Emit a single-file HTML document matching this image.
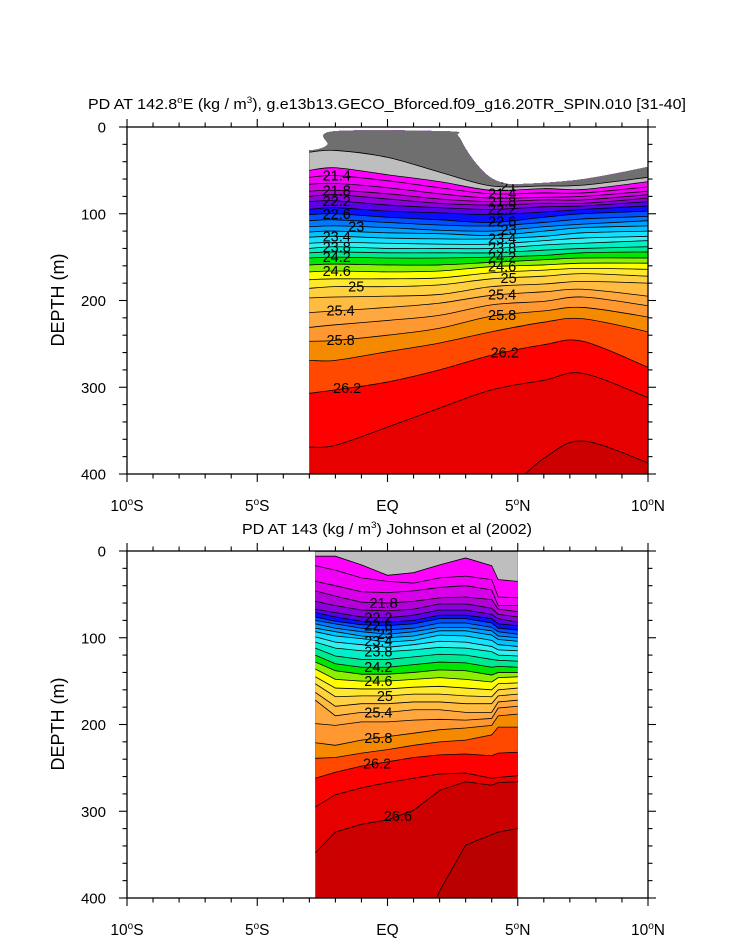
<!DOCTYPE html>
<html><head><meta charset="utf-8"><style>
html,body{margin:0;padding:0;background:#fff;}
svg{display:block;font-family:"Liberation Sans",sans-serif;}
</style></head><body>
<svg id="chart" width="733" height="945" viewBox="0 0 733 945" xmlns="http://www.w3.org/2000/svg">
<rect width="733" height="945" fill="#fff"/>
<text x="387" y="109" text-anchor="middle" font-size="14.5" textLength="598" lengthAdjust="spacingAndGlyphs">PD AT 142.8<tspan dy="-6" font-size="9">o</tspan><tspan dy="6">E (kg / m</tspan><tspan dy="-6" font-size="9">3</tspan><tspan dy="6">), g.e13b13.GECO_Bforced.f09_g16.20TR_SPIN.010 [31-40]</tspan></text>
<text x="387" y="534" text-anchor="middle" font-size="14.5" textLength="290" lengthAdjust="spacingAndGlyphs">PD AT 143 (kg / m<tspan dy="-6" font-size="9">3</tspan><tspan dy="6">) Johnson et al (2002)</tspan></text>
<text transform="translate(64,300) rotate(-90)" text-anchor="middle" font-size="18">DEPTH (m)</text>
<text transform="translate(64,724) rotate(-90)" text-anchor="middle" font-size="18">DEPTH (m)</text>
<g id="top"></g>
<g id="bot"></g>
</svg>
<script>
const NS="http://www.w3.org/2000/svg";
const levels=[21.0,21.2,21.4,21.6,21.8,22.0,22.2,22.4,22.6,22.8,23.0,23.2,23.4,23.6,23.8,24.0,24.2,24.4,24.6,24.8,25.0,25.2,25.4,25.6,25.8,26.0,26.2,26.4,26.6,26.8];
const bandColors=["#6f6f6f","#bebebe","#ff00ff","#f000f5","#d800e8","#b400d8","#8c00dc","#5a00e6","#0a10ff","#0050ff","#0078ff","#00a0ff","#00c4ff","#14e0ff","#30f0f0","#00f0c8","#00e890","#00e600","#8cf000","#ffff00","#ffe830","#ffd040","#ffbc40","#ffa840","#ff9830","#f58a00","#ff4800","#ff0000","#e60000","#cc0000"];
const deepColor="#bb0000";
const xTickLabels=["10°S","5°S","EQ","5°N","10°N"];
const xTickLats=[-10,-5,0,5,10];
const yTicks=[0,100,200,300,400];

// top panel (model)
const topLats=[-3,-2,0,2,4,6,7.5,10];
const topSurfLats=[-3,-2.6,-2.3,-2.08,2.3,2.7,3.0,3.4,3.9,4.4,5,7,8.5,10];
const topSurfDepth=[27,25,20,5,5,10,25,42,57,64,66,62,55,46];
const topDepth=[
[29,27,35,52,68,68,67,58],
[50,47,55,63,73,71,72,63],
[58,56,62,70,77,76,76,69],
[66,65,70,77,82,81,80,74],
[74,73,77,83,86,84,84,78],
[80,78,83,88,90,88,88,82],
[86,85,90,93,95,92,91,86],
[95,93,97,99,101,98,95,91],
[101,100,104,107,110,104,100,97],
[108,107,110,113,114,110,106,103],
[115,114,116,119,120,115,112,108],
[121,120,122,123,125,120,116,114],
[127,126,128,129,129,126,122,120],
[134,133,134,135,135,131,128,126],
[140,138,140,140,140,136,134,131],
[145,144,145,145,145,142,140,138],
[151,150,151,151,150,148,145,144],
[159,158,159,159,156,153,151,151],
[167,166,167,166,161,159,157,157],
[176,175,175,174,168,165,163,164],
[186,184,184,182,175,172,169,172],
[197,196,195,193,184,181,178,180],
[214,212,208,203,194,190,187,195],
[231,228,223,217,205,201,196,206],
[247,246,240,232,218,212,208,219],
[269,269,259,249,236,225,221,236],
[307,303,294,280,263,251,247,277],
[369,367,346,324,303,292,284,312],
[453,453,430,430,430,382,362,387],
[499,499,476,476,476,465,453,453]];
const topLabelsLeft=[21.4,21.8,22.2,22.6,23,23.4,23.8,24.2,24.6,25,25.4,25.8,26.2];
const topLabelsRight=[21,21.4,21.8,22.2,22.6,23,23.4,23.8,24.2,24.6,25,25.4,25.8,26.2];

// bottom panel (observations)
const botLats=[-2.77,-2,-1,0,1,2,3,4,4.25,5];
const botDepth=[
[0,0,0,0,0,0,0,0,0,0],
[6,6,16,28,25,16,8,17,33,35],
[17,22,31,35,37,31,29,33,53,54],
[35,40,47,48,46,42,40,45,63,63],
[46,52,59,60,58,54,53,56,67,70],
[58,63,68,69,67,61,61,66,73,76],
[67,71,76,77,74,68,68,73,78,82],
[71,76,81,82,80,74,74,78,84,86],
[76,81,85,86,84,78,78,83,89,91],
[80,84,89,91,89,83,83,88,93,96],
[84,89,93,96,93,88,88,92,98,100],
[89,93,98,100,98,92,92,97,102,104],
[93,98,101,105,103,97,98,103,108,110],
[99,105,108,111,108,104,105,110,114,115],
[105,112,115,116,114,111,112,116,120,121],
[112,121,125,125,122,119,120,125,126,127],
[120,130,134,134,131,128,129,134,133,134],
[128,138,142,142,140,137,138,143,140,140],
[136,148,150,150,148,146,148,151,146,145],
[145,158,159,159,157,156,158,160,153,152],
[153,168,167,167,165,165,167,168,160,158],
[163,179,176,176,174,174,176,176,167,165],
[172,190,186,186,183,183,186,186,174,172],
[199,201,197,197,195,194,195,193,181,179],
[221,224,218,214,210,206,204,201,190,188],
[239,238,233,229,224,220,218,212,203,203],
[262,255,248,243,238,235,234,236,233,232],
[295,281,273,267,262,257,256,262,261,259],
[348,324,315,310,299,276,266,270,267,266],
[460,460,450,460,460,392,339,327,324,320]];
const botLabels=[21.8,22.2,22.6,23,23.4,23.8,24.2,24.6,25,25.4,25.8,26.2,26.6];

function mk(tag,attrs,parent){const e=document.createElementNS(NS,tag);for(const k in attrs)e.setAttribute(k,attrs[k]);if(parent)parent.appendChild(e);return e;}
function smoothPath(pts){
  let d="M"+pts[0][0]+","+pts[0][1];
  for(let i=0;i<pts.length-1;i++){
    const p0=pts[Math.max(0,i-1)],p1=pts[i],p2=pts[i+1],p3=pts[Math.min(pts.length-1,i+2)];
    const c1=[p1[0]+(p2[0]-p0[0])/6,p1[1]+(p2[1]-p0[1])/6];
    const c2=[p2[0]-(p3[0]-p1[0])/6,p2[1]-(p3[1]-p1[1])/6];
    d+=" C"+c1[0].toFixed(2)+","+c1[1].toFixed(2)+" "+c2[0].toFixed(2)+","+c2[1].toFixed(2)+" "+p2[0].toFixed(2)+","+p2[1].toFixed(2);
  }
  return d;
}
function linePath(pts){return "M"+pts.map(p=>p[0].toFixed(2)+","+p[1].toFixed(2)).join(" L");}
function interp(xs,ys,x){
  if(x<=xs[0])return ys[0];
  for(let i=0;i<xs.length-1;i++){if(x<=xs[i+1]){const t=(x-xs[i])/(xs[i+1]-xs[i]);return ys[i]+t*(ys[i+1]-ys[i]);}}
  return ys[ys.length-1];
}

function drawPanel(g,id,y0,lats,depth,smooth,clipD,labelSpecs){
  const X0=127,X1=648,Y0=y0,Y1=y0+347;
  const xs=lat=>X0+(lat+10)*(X1-X0)/20;
  const ys=d=>Y0+d*(Y1-Y0)/400;
  const build=smooth?smoothPath:linePath;
  const clip=mk("clipPath",{id:id+"-clip"},g);
  mk("path",{d:clipD(xs,ys)},clip);
  const data=mk("g",{"clip-path":"url(#"+id+"-clip)"},g);
  
  
  const xa=xs(lats[0])-1, xb=xs(lats[lats.length-1])+1;
  const bg=mk("rect",{x:xa,y:Y0,width:xb-xa,height:Y1-Y0+5,fill:deepColor},data);
  
  
  for(let k=levels.length-1;k>=0;k--){
    const pts=lats.map((la,i)=>[xs(la),ys(depth[k][i])]);
    pts.unshift([xa,pts[0][1]]);pts.push([xb,pts[pts.length-1][1]]);
    let d=build(pts)+" L"+xb+","+(Y0-20)+" L"+xa+","+(Y0-20)+" Z";
    const band=mk("path",{d:d,fill:bandColors[k],stroke:bandColors[k],"stroke-width":0.4},data);
    
    
  }
  for(let k=0;k<levels.length;k++){
    const pts=lats.map((la,i)=>[xs(la),ys(depth[k][i])]);
    pts.unshift([xa,pts[0][1]]);pts.push([xb,pts[pts.length-1][1]]);
    const ln=mk("path",{d:build(pts),fill:"none",stroke:"#000","stroke-width":0.8},data);
    
    
  }
  labelSpecs.forEach(s=>{
    const k=levels.findIndex(l=>Math.abs(l-s.v)<1e-6);
    const dep=interp(lats,depth[k],s.lat);
    const t=mk("text",{x:xs(s.lat),y:ys(dep)+5,"text-anchor":"middle","font-size":14.5},data);
    
    
    t.textContent=String(s.v);
  });
  const fr=mk("rect",{x:X0,y:Y0,width:X1-X0,height:Y1-Y0,fill:"none",stroke:"#000","stroke-width":1.3},g);
  
  
  const ticks=mk("g",{stroke:"#000","stroke-width":1.1},g);
  
  
  for(let lat=-10;lat<=10;lat++){
    const x=xs(lat),L=(lat%5===0)?8:4.5;
    mk("line",{x1:x,y1:Y0,x2:x,y2:Y0-L},ticks);
    mk("line",{x1:x,y1:Y1,x2:x,y2:Y1+L},ticks);
  }
  for(let dd=0;dd<=400;dd+=20){
    const y=ys(dd),L=(dd%100===0)?8:4.5;
    mk("line",{x1:X0,y1:y,x2:X0-L,y2:y},ticks);
    mk("line",{x1:X1,y1:y,x2:X1+L,y2:y},ticks);
  }
  yTicks.forEach(v=>{
    const t=mk("text",{x:106,y:ys(v)+5.5,"text-anchor":"end","font-size":15},g);
    
    
    t.textContent=String(v);
  });
  xTickLats.forEach((la,i)=>{
    const lab=xTickLabels[i];
    const t=mk("text",{x:xs(la),y:Y1+37,"text-anchor":"middle","font-size":15.5},g);
    
    
    if(lab.indexOf("°")>=0){
      const parts=lab.split("°");
      mk("tspan",{},t).textContent=parts[0];
      mk("tspan",{dy:-6,"font-size":10},t).textContent="o";
      mk("tspan",{dy:6},t).textContent=parts[1];
    } else t.textContent=lab;
  });
}

const topSpecs=[];
topLabelsLeft.forEach(v=>topSpecs.push({v:v,lat:(v===23||v===25)?-1.2:(v===26.2?-1.55:(v===25.4||v===25.8?-1.8:-1.95))}));
topLabelsRight.forEach(v=>topSpecs.push({v:v,lat:(v===21||v===23||v===25)?4.65:(v===26.2?4.5:4.4)}));
drawPanel(document.getElementById("top"),"top",127,topLats,topDepth,true,(xs,ys)=>{
  const pts=topSurfLats.map((la,i)=>[xs(la),ys(topSurfDepth[i])]);
  return smoothPath(pts)+" L"+xs(10)+","+ys(400)+" L"+xs(-3)+","+ys(400)+" Z";
},topSpecs);

const botSpecs=botLabels.map(v=>({v:v,lat:(v===21.8)?-0.15:(v===23||v===25)?-0.1:(v===26.6?0.4:(v===26.2?-0.4:-0.35))}));
drawPanel(document.getElementById("bot"),"bot",551,botLats,botDepth,false,(xs,ys)=>{
  return "M"+xs(botLats[0])+","+ys(1)+" L"+xs(5)+","+ys(1)+" L"+xs(5)+","+ys(400)+" L"+xs(botLats[0])+","+ys(400)+" Z";
},botSpecs);
</script>
</body></html>
